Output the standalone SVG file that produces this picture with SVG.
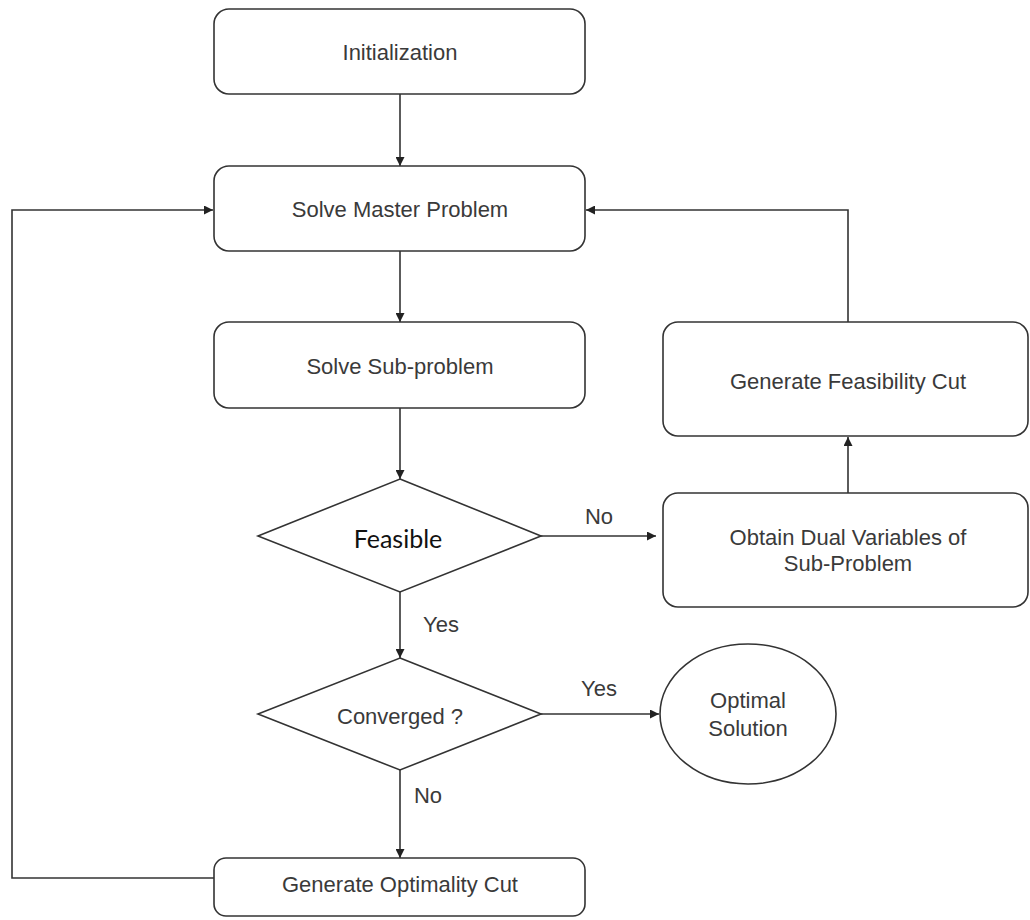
<svg xmlns="http://www.w3.org/2000/svg" width="1030" height="920" viewBox="0 0 1030 920">
<defs>
<marker id="arr" viewBox="0 0 10 10" refX="10" refY="5" markerWidth="9" markerHeight="9" markerUnits="userSpaceOnUse" orient="auto">
<path d="M0,0 L10,5 L0,10 z" fill="#222"/>
</marker>
<style>
.box{fill:#fff;stroke:#333;stroke-width:1.6}
.t{font-family:"Liberation Sans",Arial,sans-serif;font-size:22px;fill:#3a3a3a;text-anchor:middle;dominant-baseline:central}
.f{font-family:Lato,"Noto Sans",sans-serif;font-size:25px;fill:#111;text-anchor:middle;dominant-baseline:central}
.c{fill:none;stroke:#333;stroke-width:1.6;marker-end:url(#arr)}
</style>
</defs>
<rect width="1030" height="920" fill="#fff"/>
<g id="connectors">
<path class="c" d="M400,94 V166"/>
<path class="c" d="M400,251 V322"/>
<path class="c" d="M400,408 V479"/>
<path class="c" d="M400,592 V658"/>
<path class="c" d="M400,770 V858"/>
<path class="c" d="M541,536 H656"/>
<path class="c" d="M541,714 H659"/>
<path class="c" d="M848,493 V437"/>
<path class="c" d="M848,322 V210 H586"/>
<path class="c" d="M214,878 H12 V210 H213"/>
<text class="t" x="599" y="516">No</text>
<text class="t" x="441" y="624">Yes</text>
<text class="t" x="599" y="688">Yes</text>
<text class="t" x="428" y="795">No</text>
</g>
<g id="init"><rect class="box" x="214" y="9" width="371" height="85" rx="15"/><text class="t" x="400" y="52">Initialization</text></g>
<g id="master"><rect class="box" x="214" y="166" width="371" height="85" rx="15"/><text class="t" x="400" y="209">Solve Master Problem</text></g>
<g id="sub"><rect class="box" x="214" y="322" width="371" height="86" rx="15"/><text class="t" x="400" y="366">Solve Sub-problem</text></g>
<g id="feasible"><polygon class="box" points="400,479 541,536 400,592 258,536"/><text class="f" x="398" y="538">Feasible</text></g>
<g id="converged"><polygon class="box" points="400,658 541,714 400,770 258,714"/><text class="t" x="400" y="716">Converged ?</text></g>
<g id="optimal"><ellipse class="box" cx="748" cy="714" rx="88" ry="70"/><text class="t" x="748" y="700">Optimal</text><text class="t" x="748" y="728">Solution</text></g>
<g id="optcut"><rect class="box" x="214" y="858" width="371" height="58" rx="12"/><text class="t" x="400" y="884">Generate Optimality Cut</text></g>
<g id="dual"><rect class="box" x="663" y="493" width="365" height="114" rx="15"/><text class="t" x="848" y="537">Obtain Dual Variables of</text><text class="t" x="848" y="563">Sub-Problem</text></g>
<g id="feascut"><rect class="box" x="663" y="322" width="365" height="114" rx="15"/><text class="t" x="848" y="381">Generate Feasibility Cut</text></g>
</svg>
